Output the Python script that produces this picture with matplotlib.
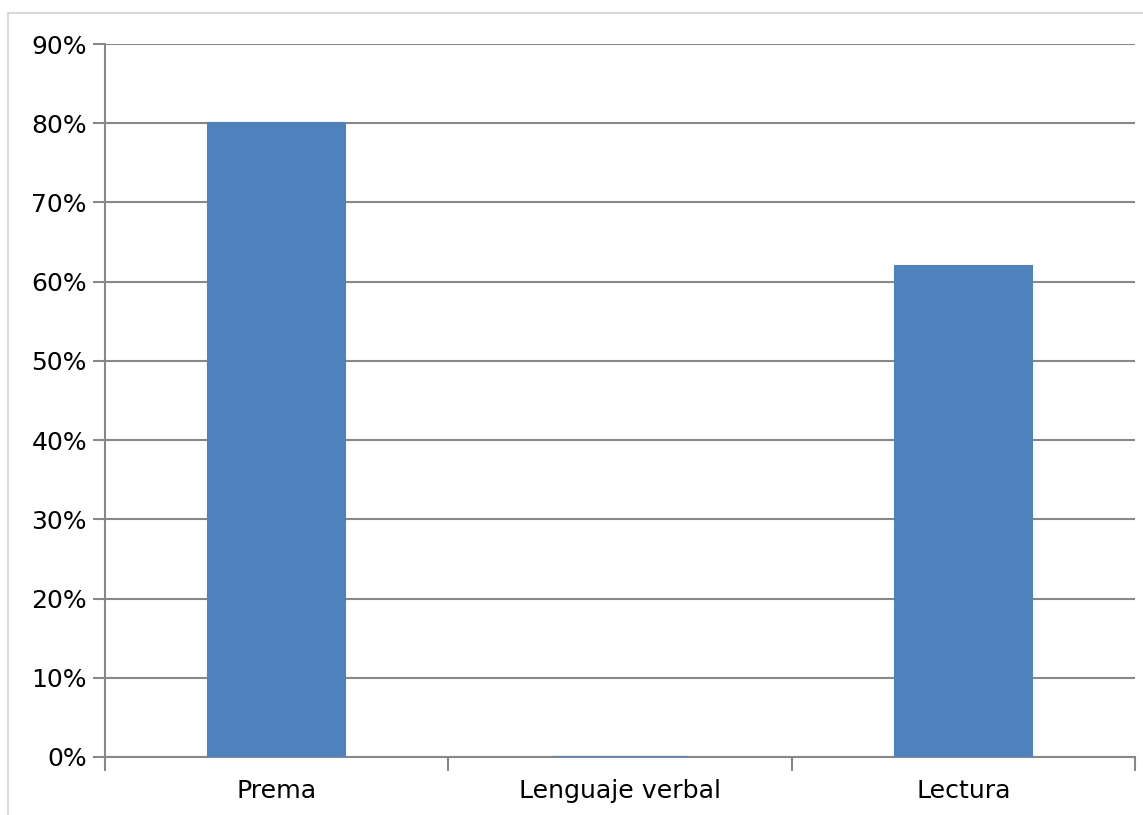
import matplotlib
matplotlib.use('Agg')
import matplotlib.pyplot as plt
import numpy as np
from matplotlib import ticker
from matplotlib.lines import Line2D

categories = ["Prema", "Lenguaje verbal", "Lectura"]
values = [80, 0, 62]
yticks = [0, 10, 20, 30, 40, 50, 60, 70, 80, 90]

bar_color = '#4F81BD'
grid_color = '#888888'

fig = plt.figure(figsize=(11.43, 8.15), dpi=100)
ax = fig.add_axes([105/1143, 1 - 757/815, (1135 - 105)/1143, (757 - 44)/815])

# light frame (only top and left edges show in the crop)
fx, fy = 7.5/1143, 1 - 12.5/815
fig.add_artist(Line2D([fx, 1], [fy, fy], transform=fig.transFigure,
                      color='#d9d9d9', linewidth=1.5))
fig.add_artist(Line2D([fx, fx], [0, fy], transform=fig.transFigure,
                      color='#d9d9d9', linewidth=1.5))

x = np.arange(len(categories))
ax.bar(x, values, width=0.398, color=bar_color, edgecolor=bar_color,
       linewidth=1.5, zorder=3)

ax.set_xlim(-0.5, len(categories) - 0.5)
ax.set_ylim(0, 90)
ax.set_yticks(yticks)
ax.yaxis.set_major_formatter(ticker.FuncFormatter(lambda v, pos: f"{v:.0f}%"))
ax.yaxis.grid(True, color=grid_color, linewidth=1.5, zorder=0)

ax.set_xticks(x)
ax.set_xticklabels(categories)
ax.set_xticks(np.arange(len(categories) + 1) - 0.5, minor=True)
ax.tick_params(axis='x', which='major', length=0, pad=16, labelsize=18.2)
ax.tick_params(axis='x', which='minor', length=10, width=1.5, color=grid_color)
ax.tick_params(axis='y', length=9, width=1.5, color=grid_color, pad=4, labelsize=18)

for side in ['top', 'right']:
    ax.spines[side].set_visible(False)
for side in ['left', 'bottom']:
    ax.spines[side].set_color(grid_color)
    ax.spines[side].set_linewidth(1.5)
    ax.spines[side].set_zorder(1)

fig.savefig('out.png', dpi=100, facecolor='white')
